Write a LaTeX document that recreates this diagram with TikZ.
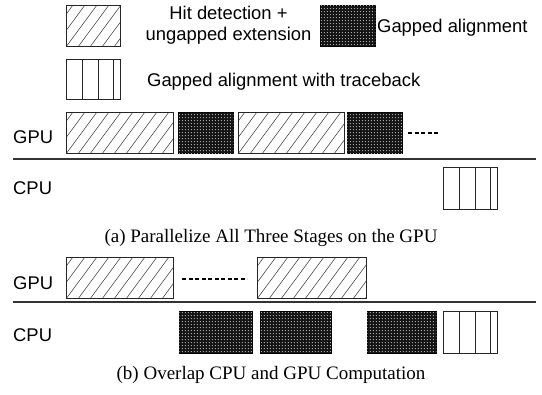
\documentclass[tikz,border=0pt]{standalone}
\usepackage{fontspec}
\setmainfont{Liberation Serif}
\setsansfont{Liberation Sans}
\usetikzlibrary{patterns.meta}

% coarse dot grid for the gapped-alignment fill
\tikzdeclarepattern{
  name=coarsedots, type=uncolored,
  bottom left={(0pt,0pt)}, top right={(3.3pt,3.3pt)},
  tile size={(3.3pt,3.3pt)},
  code={\fill (1.65pt,1.65pt) circle (0.75pt);}
}

\tikzset{
  blk/.style={draw=black!85, line width=0.8pt, inner sep=0pt, anchor=north west,
    minimum height=41pt},
  % diagonal hatching: hit detection + ungapped extension
  hatchbox/.style={blk, path picture={
      \foreach \k in {-4,...,11}{
        \draw[black!75, line width=0.55pt]
          ([xshift=\k*12pt]path picture bounding box.south west) -- ++(34pt,46pt);
      }}},
  % dark dotted fill: gapped alignment
  darkbox/.style={blk, draw=black, fill=black!92,
    postaction={pattern=coarsedots, pattern color=white!70!black}},
  % vertical bars: gapped alignment with traceback
  tracebox/.style={blk, path picture={
      \foreach \d in {16,32,47}{
        \draw[black!85, line width=0.8pt]
          ([xshift=\d pt]path picture bounding box.south west) -- ++(0,60pt);
      }}},
  lbl/.style={font=\sffamily\fontsize{18.4}{22}\selectfont, inner sep=0pt, anchor=west},
  captxt/.style={font=\rmfamily\fontsize{19}{22}\selectfont, inner sep=0pt},
  sep/.style={draw=black!80, line width=1.1pt},
  gapline/.style={draw=black, line width=1.4pt, dash pattern=on 4pt off 2.5pt}
}

\begin{document}
\begin{tikzpicture}[x=1pt, y=-1pt]
\useasboundingbox (0,0) rectangle (542,395);

% ---- legend ----
\node[hatchbox, minimum width=54pt] (leghit) at (66,5) {};
\node[lbl, anchor=center, align=center] (leghittxt) at (228.5,25.5)
  {Hit detection +\\[-1pt]ungapped extension};
\node[darkbox, minimum width=55pt] (leggap) at (320,5) {};
\node[lbl] (leggaptxt) at (377,28) {Gapped alignment};
\node[tracebox, minimum width=54pt, minimum height=40pt] (legtb) at (66,59) {};
\node[lbl] (legtbtxt) at (147,82) {Gapped alignment with traceback};

% ---- (a) all three stages on the GPU ----
\node[lbl] (gpuA) at (13,137) {GPU};
\node[lbl] (cpuA) at (13,188) {CPU};
\node[hatchbox, minimum width=107pt] (a1) at (66,112) {};
\node[darkbox, minimum width=55pt] (a2) at (178,112) {};
\node[hatchbox, minimum width=106pt] (a3) at (238,112) {};
\node[darkbox, minimum width=55pt] (a4) at (347,112) {};
\coordinate (aDotS) at (408,133);
\coordinate (aDotE) at (440,133);
\draw[gapline] (aDotS) -- (aDotE);
\coordinate (sepAL) at (13,159);
\coordinate (sepAR) at (536,159);
\draw[sep] (sepAL) -- (sepAR);
\node[tracebox, minimum width=54pt, minimum height=42pt] (a5) at (443,167) {};
\node[captxt] (capA) at (271,238) {(a) Parallelize All Three Stages on the GPU};

% ---- (b) overlapped CPU and GPU ----
\node[lbl] (gpuB) at (13,283) {GPU};
\node[lbl] (cpuB) at (13,335) {CPU};
\node[hatchbox, minimum width=107pt] (b1) at (66,257) {};
\coordinate (bDotS) at (182,279);
\coordinate (bDotE) at (247,279);
\draw[gapline] (bDotS) -- (bDotE);
\node[hatchbox, minimum width=109pt] (b2) at (257,257) {};
\coordinate (sepBL) at (13,302);
\coordinate (sepBR) at (536,302);
\draw[sep] (sepBL) -- (sepBR);
\node[darkbox, minimum width=73pt, minimum height=42pt] (b3) at (179,311) {};
\node[darkbox, minimum width=71pt, minimum height=42pt] (b4) at (260,311) {};
\node[darkbox, minimum width=69pt, minimum height=42pt] (b5) at (367,311) {};
\node[tracebox, minimum width=54pt, minimum height=42pt] (b6) at (443,311) {};
\node[captxt] (capB) at (271,375) {(b) Overlap CPU and GPU Computation};
\end{tikzpicture}
\end{document}
